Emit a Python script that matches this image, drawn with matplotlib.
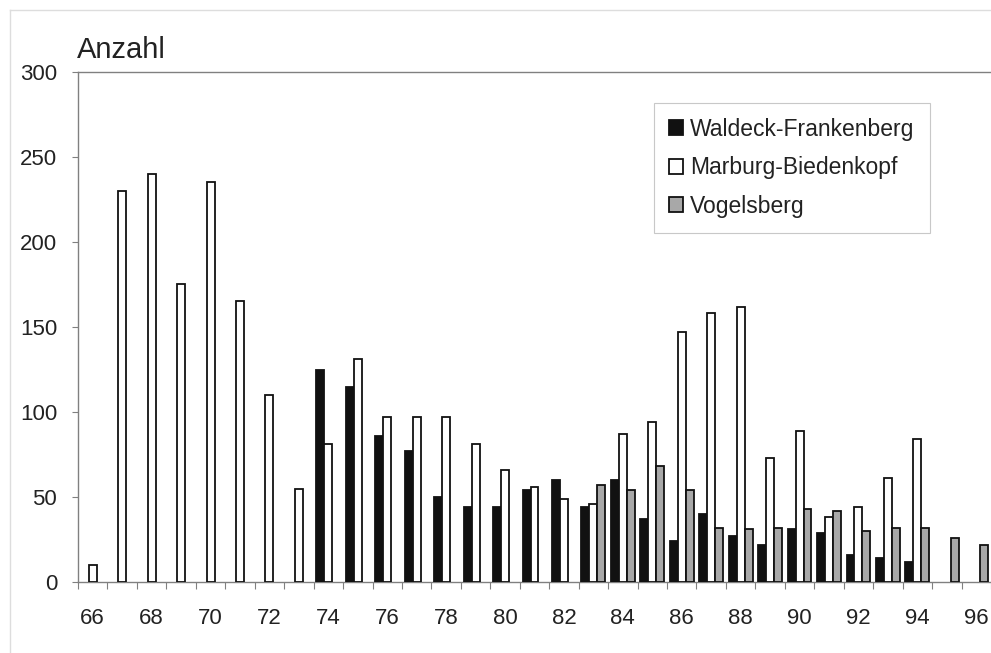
import numpy as np
import matplotlib
matplotlib.use("Agg")
import matplotlib.pyplot as plt
from matplotlib.lines import Line2D

plt.rcParams['font.family'] = ['Liberation Sans', 'DejaVu Sans']

# Jahre 1966-1996
years = list(range(66, 97))
year_labels = [str(y) for y in range(66, 97, 2)]

# Anzahl je Kreis (0 = kein Wert)
waldeck = [0, 0, 0, 0, 0, 0, 0, 0, 125, 115, 86, 77, 50, 44, 44, 54,
           60, 44, 60, 37, 24, 40, 27, 22, 31, 29, 16, 14, 12, 0, 0]
marburg = [10, 230, 240, 175, 235, 165, 110, 55, 81, 131, 97, 97, 97, 81, 66, 56,
           49, 46, 87, 94, 147, 158, 162, 73, 89, 38, 44, 61, 84, 0, 0]
vogelsberg = [0, 0, 0, 0, 0, 0, 0, 0, 0, 0, 0, 0, 0, 0, 0, 0,
              0, 57, 54, 68, 54, 32, 31, 32, 43, 42, 30, 32, 32, 26, 22]

series_names = ['Waldeck-Frankenberg', 'Marburg-Biedenkopf', 'Vogelsberg']
series_colors = ['#111111', '#ffffff', '#a8a8a8']

fig = plt.figure(figsize=(9.91, 6.53), dpi=100)
ax = fig.add_axes([78 / 991, 71 / 653, 913 / 991, 510 / 653])

x = np.array(years, dtype=float)
w = 0.27
for i, (vals, col) in enumerate(zip([waldeck, marburg, vogelsberg], series_colors)):
    vals = np.array(vals, dtype=float)
    mask = vals > 0
    ax.bar(x[mask] + (i - 1) * w, vals[mask], width=w, color=col,
           edgecolor='#111111', linewidth=1.3, label=series_names[i], zorder=3)

ax.set_xlim(65.5, 96.5)
ax.set_ylim(0, 300)
ax.set_yticks(range(0, 301, 50))
ax.set_xticks(range(66, 97, 2))
ax.set_xticklabels(year_labels)
ax.set_xticks(np.arange(65.5, 97, 1.0), minor=True)

ax.tick_params(axis='x', which='major', length=0, pad=19, labelsize=16, labelcolor='#222222')
ax.tick_params(axis='x', which='minor', length=5, width=0.8, color='#808080', direction='out')
ax.tick_params(axis='y', which='major', length=4, width=0.8, color='#808080',
               pad=11, labelsize=16, labelcolor='#222222')

for side in ['left', 'bottom', 'top']:
    ax.spines[side].set_color('#808080')
    ax.spines[side].set_linewidth(1.0)
ax.spines['right'].set_visible(False)

leg = ax.legend(loc='upper left', bbox_to_anchor=(0.618, 0.962), fontsize=16.5,
                frameon=True, fancybox=False, framealpha=1, edgecolor='#c8c8c8',
                handlelength=0.65, handleheight=0.65, handletextpad=0.3,
                labelspacing=0.68, borderpad=0.65)
leg.get_frame().set_linewidth(0.8)
for t in leg.get_texts():
    t.set_color('#222222')

fig.text(77 / 991, 1 - 58 / 653, 'Anzahl', fontsize=21, color='#222222', va='baseline')

# heller Rahmen der Diagrammflaeche
fig.add_artist(Line2D([10 / 991, 10 / 991], [0, 1 - 10 / 653], color='#dddddd', lw=1))
fig.add_artist(Line2D([10 / 991, 1], [1 - 10 / 653, 1 - 10 / 653], color='#dddddd', lw=1))

fig.savefig('out.png', dpi=100)
